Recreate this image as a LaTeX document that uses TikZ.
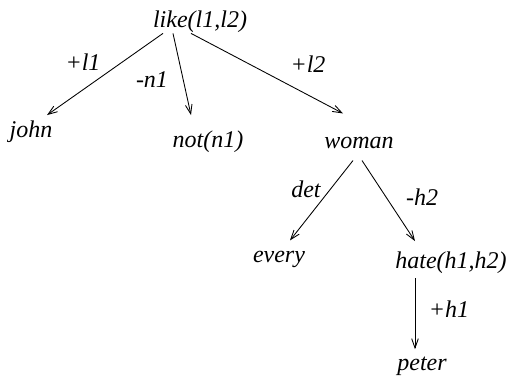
\documentclass[tikz,border=0pt]{standalone}
\usepackage{fontspec}
\setmainfont{Liberation Serif}
\usetikzlibrary{arrows.meta,calc}
\begin{document}
\begin{tikzpicture}[x=0.75pt,y=-0.75pt,
  every node/.style={inner sep=0pt,anchor=base,font=\itshape\fontsize{18}{20}\selectfont},
  edge/.style={line width=0.65pt,-{Straight Barb[length=7pt,width=5pt]}}]
\useasboundingbox (0,0) rectangle (510,380);
% words
\node (like) at (200,27) {like(l1,l2)};
\node (john) at (31,137) {john};
\node (not) at (208,147) {not(n1)};
\node (woman) at (359,148) {woman};
\node (every) at (279,262) {every};
\node (hate) at (451,268) {hate(h1,h2)};
\node (peter) at (422,370) {peter};
% arc labels
\node (l1) at (83,70) {+l1};
\node (n1) at (152,87) {-n1};
\node (l2) at (308,72) {+l2};
\node (det) at (306,197) {det};
\node (h2) at (422,205) {-h2};
\node (h1) at (449,317) {+h1};
% arcs
\draw[edge] ($(like.south)+(-37,1)$) -- ($(john.north)+(16,-5)$);
\draw[edge] ($(like.south)+(-27,1)$) -- ($(not.north)+(-17,-15)$);
\draw[edge] ($(like.south)+(-9,1)$) -- ($(woman.north)+(-16,-23)$);
\draw[edge] ($(woman.south)+(-6,12)$) -- ($(every.north)+(11,-10)$);
\draw[edge] ($(woman.south)+(3,12)$) -- ($(hate.north)+(-36,-10)$);
\draw[edge] ($(hate.south)+(-36,5)$) -- ($(peter.north)+(-7,-7)$);
\end{tikzpicture}
\end{document}
